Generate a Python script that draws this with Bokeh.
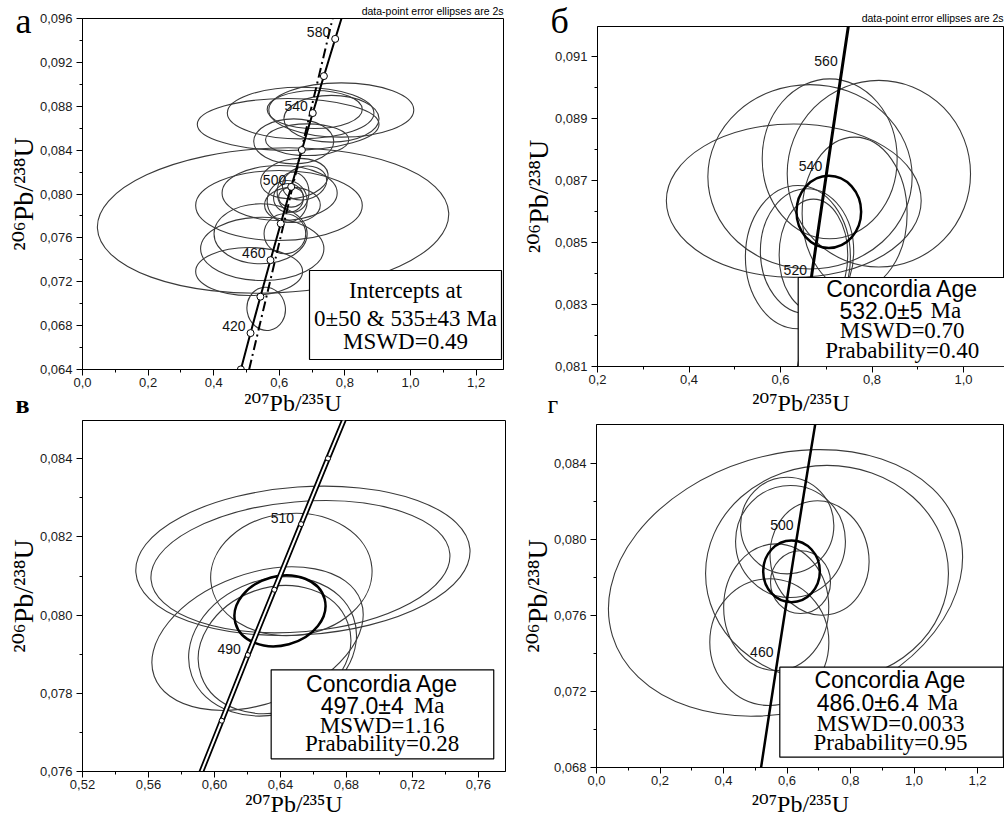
import math
from bokeh.plotting import figure
from bokeh.models import (FixedTicker, Label, BoxAnnotation, Range1d, Title,
                          ColumnDataSource, CustomJSTickFormatter)
from bokeh.layouts import column, row
from bokeh.embed import file_html
from bokeh.resources import INLINE
from bokeh.core.properties import value

SERIF = "Liberation Serif"
SERIF_SUP = "Liberation Serif, DejaVu Serif"
SANS = "Liberation Sans"

# ---------------- concordia reference points (age, Ma) ----------------
conc_age = [380, 390, 400, 410, 420, 430, 440, 450, 460, 470, 480, 490, 500,
            510, 520, 530, 540, 550, 560, 570, 580, 590, 600]
conc_x = [0.4539, 0.4683, 0.4828, 0.4975, 0.5123, 0.5273, 0.5424, 0.5577, 0.5731,
          0.5886, 0.6044, 0.6202, 0.6363, 0.6525, 0.6688, 0.6853, 0.7020, 0.7189,
          0.7359, 0.7531, 0.7704, 0.7879, 0.8056]
conc_y = [0.06072, 0.06237, 0.06401, 0.06567, 0.06732, 0.06898, 0.07064, 0.07230,
          0.07397, 0.07563, 0.07730, 0.07898, 0.08065, 0.08233, 0.08401, 0.08569,
          0.08738, 0.08906, 0.09075, 0.09245, 0.09414, 0.09584, 0.09754]

# ---------------- panel а ----------------
a_x = [0.581, 0.627, 0.665, 0.789, 0.759, 0.708, 0.644, 0.685, 0.599, 0.601, 0.646,
       0.624, 0.628, 0.636, 0.642, 0.677, 0.640, 0.508, 0.548, 0.543, 0.617, 0.560]
a_y = [0.07758, 0.08634, 0.08738, 0.08766, 0.08686, 0.08770, 0.08480, 0.08495, 0.07895,
       0.08009, 0.08141, 0.07933, 0.07964, 0.07971, 0.08016, 0.08100, 0.07900, 0.07293,
       0.07500, 0.07637, 0.07637, 0.06953]
a_w = [1.072, 0.554, 0.447, 0.442, 0.290, 0.290, 0.244, 0.254, 0.508, 0.351, 0.207,
       0.122, 0.091, 0.076, 0.097, 0.137, 0.170, 0.326, 0.376, 0.284, 0.127, 0.117]
a_h = [0.0132, 0.00474, 0.00471, 0.00495, 0.00426, 0.00347, 0.00410, 0.00289, 0.00638,
       0.00501, 0.00360, 0.00380, 0.00264, 0.00182, 0.00365, 0.00300, 0.00320, 0.00438,
       0.00577, 0.00547, 0.00365, 0.00395]
a_ang = [2.5, 0, 0, 0, 0, 0, 0, 0, 0, 0, 8, 0, 0, 0, 0, 15, 0, 0, 0, 0, 0, 10]
a_marker_ages = [400, 420, 440, 460, 480, 500, 520, 540, 560, 580]
a_label_ages = [420, 460, 500, 540, 580]
a_disc_x = [0.508, 0.7625]
a_disc_y = [0.064, 0.096]
a_xticks = [0.0, 0.2, 0.4, 0.6, 0.8, 1.0, 1.2]
a_xminor = [0.1, 0.3, 0.5, 0.7, 0.9, 1.1]
a_yticks = [0.064, 0.068, 0.072, 0.076, 0.080, 0.084, 0.088, 0.092, 0.096]
a_yminor = [0.066, 0.070, 0.074, 0.078, 0.082, 0.086, 0.090, 0.094]
a_text = ["Intercepts at", "0±50 & 535±43 Ma", "MSWD=0.49"]

# ---------------- panel б ----------------
b_x = [0.629, 0.6645, 0.7075, 0.815, 0.762, 0.638, 0.658, 0.672]
b_y = [0.08635, 0.08712, 0.0877, 0.08722, 0.08593, 0.08453, 0.08472, 0.0846]
b_w = [0.557, 0.4466, 0.295, 0.4007, 0.2295, 0.2295, 0.204, 0.15]
b_h = [0.00495, 0.00595, 0.00516, 0.00602, 0.00494, 0.00462, 0.00403, 0.0036]
b_ang = [0, 0, 0, 0, 0, 0, 0, 0]
b_mean = dict(x=[0.7056], y=[0.08599], w=[0.1413], h=[0.00233], a=[0])
b_label_ages = [520, 540, 560]
b_xticks = [0.2, 0.4, 0.6, 0.8, 1.0]
b_xminor = [0.3, 0.5, 0.7, 0.9]
b_yticks = [0.081, 0.083, 0.085, 0.087, 0.089, 0.091]
b_yminor = [0.082, 0.084, 0.086, 0.088, 0.090]
b_text = ["Concordia Age", "532.0±5", "Ma", "MSWD=0.70", "Prabability=0.40"]

# ---------------- panel в ----------------
c_x = [0.6536, 0.6521, 0.6466, 0.6261, 0.6352, 0.6364]
c_y = [0.08139, 0.08124, 0.08104, 0.07940, 0.07920, 0.07912]
c_w = [0.2030, 0.1818, 0.0980, 0.1333, 0.1042, 0.0945]
c_h = [0.003783, 0.003326, 0.00312, 0.003326, 0.003428, 0.00317]
c_ang = [4, 5, 5, 20, 20, 20]
c_mean = dict(x=[0.6397], y=[0.08011], w=[0.056], h=[0.00177], a=[15])
c_marker_ages = [470, 480, 490, 500, 510, 520, 530]
c_label_ages = [490, 510]
c_xticks = [0.52, 0.56, 0.60, 0.64, 0.68, 0.72, 0.76]
c_xminor = [0.54, 0.58, 0.62, 0.66, 0.70, 0.74]
c_yticks = [0.076, 0.078, 0.080, 0.082, 0.084]
c_yminor = [0.077, 0.079, 0.081, 0.083]
c_text = ["Concordia Age", "497.0±4", "Ma", "MSWD=1.16", "Prabability=0.28"]

# ---------------- panel г ----------------
d_x = [0.5953, 0.726, 0.6006, 0.611, 0.7025, 0.566, 0.5443, 0.6425]
d_y = [0.0777, 0.0782, 0.08072, 0.07988, 0.07901, 0.07642, 0.07458, 0.07774]
d_w = [1.140, 0.765, 0.294, 0.346, 0.310, 0.331, 0.375, 0.189]
d_h = [0.01347, 0.01137, 0.00509, 0.0059, 0.00605, 0.00667, 0.00667, 0.0033]
d_ang = [17, 0, 0, 0, 10, 0, 0, 0]
d_mean = dict(x=[0.6142], y=[0.07831], w=[0.1785], h=[0.00325], a=[0])
d_label_ages = [460, 500]
d_xticks = [0.0, 0.2, 0.4, 0.6, 0.8, 1.0, 1.2]
d_xminor = [0.1, 0.3, 0.5, 0.7, 0.9, 1.1]
d_yticks = [0.068, 0.072, 0.076, 0.080, 0.084]
d_yminor = [0.070, 0.074, 0.078, 0.082]
d_text = ["Concordia Age", "486.0±6.4", "Ma", "MSWD=0.0033", "Prabability=0.95"]

Y_TITLE = "\u00b2\u2070\u2076Pb/\u00b2\u00b3\u2078U"
X_TITLE = "\u00b2\u2070\u2077Pb/\u00b2\u00b3\u2075U"
NOTE = "data-point error ellipses are 2s"
ELL_COLOR = "#3a3a3a"
# (ascent + descent, descent) as fractions of the font size
SERIF_M = (1.107, 0.216)
SANS_M = (1.117, 0.212)

# page-pixel -> data calibrations of each panel (from its tick marks)
CAL = {
    "a": lambda px, py: ((px - 82) / 328.0, 0.096 - (py - 18) * 0.032 / 351.0),
    "b": lambda px, py: (0.2 + (px - 597) / 457.5, 0.091 - (py - 56) / 31000.0),
    "c": lambda px, py: (0.52 + (px - 82) * 0.04 / 66.0, 0.084 - (py - 458.3) * 0.008 / 312.7),
    "d": lambda px, py: ((px - 596) / 317.5, 0.084 - (py - 462.7) * 0.016 / 304.0),
}


def make_fig(w, h, xr, yr, bl, br, bt, bb):
    p = figure(width=w, height=h, x_range=Range1d(*xr), y_range=Range1d(*yr),
               output_backend="svg", toolbar_location=None, tools="",
               min_border_left=bl, min_border_right=br,
               min_border_top=bt, min_border_bottom=bb)
    p.grid.visible = False
    p.background_fill_color = "white"
    p.border_fill_color = "white"
    p.outline_line_color = "black"
    p.outline_line_width = 1
    return p


def style_axes(p, xt, xm, yt, ym, xdec, ydec, x_lab_standoff):
    for ax, ticks, minors, dec, stand in ((p.below[0], xt, xm, xdec, 2),
                                         (p.left[0], yt, ym, ydec, 4)):
        ax.ticker = FixedTicker(ticks=ticks, minor_ticks=minors)
        ax.formatter = CustomJSTickFormatter(
            code="return tick.toFixed(%d).replace('.', ',');" % dec)
        ax.axis_line_color = "black"
        ax.axis_line_width = 1
        ax.major_tick_line_color = "black"
        ax.major_tick_out = 6
        ax.major_tick_in = 0
        ax.minor_tick_line_color = "black"
        ax.minor_tick_out = 3
        ax.minor_tick_in = 0
        ax.major_label_text_font = SANS
        ax.major_label_text_font_size = "13px"
        ax.major_label_text_color = "#1a1a1a"
        ax.major_label_standoff = stand
        ax.axis_label_text_font = SERIF_SUP
        ax.axis_label_text_font_style = "normal"
        ax.axis_label_text_color = "black"
    p.below[0].axis_label = X_TITLE
    p.below[0].axis_label_text_font_size = "24px"
    p.below[0].axis_label_standoff = x_lab_standoff
    p.left[0].axis_label = Y_TITLE
    p.left[0].axis_label_text_font_size = "28px"
    p.left[0].axis_label_standoff = -2


def lab(p, cal, px, py, text, font, size, align="center"):
    x, y = CAL[cal](px, py)
    p.add_layout(Label(x=x, y=y, text=text, text_font=font, text_font_size=size,
                       text_align=align, text_baseline="middle", text_color="black"))


def side_text(p, row_bottom, text, font, size, metrics, align, offset, baseline,
              bold=False):
    """Text placed through a Title row of the top border, anchored by its baseline
    (page px).  Returns the bottom of the next row."""
    height, desc = metrics[0] * size, metrics[1] * size
    y_bottom = baseline + desc
    standoff = 2 * (row_bottom - y_bottom)
    p.add_layout(Title(text=text, align=align, offset=offset, standoff=standoff,
                       vertical_align="bottom", text_font=font,
                       text_font_size="%gpx" % size, text_color="black",
                       text_font_style="bold" if bold else "normal"), "above")
    used = max(0.0, 2 + height + standoff)
    return row_bottom - used


def ellipses(p, xs, ys, ws, hs, angs, color=ELL_COLOR, lw=1.1):
    src = ColumnDataSource(dict(x=xs, y=ys, w=ws, h=hs, a=angs))
    p.ellipse(x="x", y="y", width="w", height="h", angle="a", angle_units="deg",
              source=src, fill_color=None, line_color=color, line_width=lw)


def age_pts(ages):
    idx = [conc_age.index(a) for a in ages]
    return [conc_x[i] for i in idx], [conc_y[i] for i in idx], [str(a) for a in ages]


def age_labels(p, ages, xo, yo):
    xs, ys, ts = age_pts(ages)
    p.text(x=xs, y=ys, text=ts, text_font=value(SANS), text_font_size="14px",
           text_align="right", text_baseline="middle", x_offset=xo, y_offset=yo,
           text_color="#111111")


def result_box(p, cal, px0, px1, py0, py1, bottom=None, right=None):
    l, t = CAL[cal](px0, py0)
    r, b = CAL[cal](px1, py1)
    p.add_layout(BoxAnnotation(left=l, right=right if right is not None else r,
                               bottom=bottom if bottom is not None else b, top=t,
                               fill_color="white", fill_alpha=1.0, line_color="black",
                               line_width=1.2, line_alpha=1.0))


def concordia_text(p, cal, lines, cx, split_l, split_r, ys):
    lab(p, cal, cx, ys[0], lines[0], SANS, "23px")
    lab(p, cal, split_l, ys[1], lines[1], SANS, "23px", align="right")
    lab(p, cal, split_r, ys[1], lines[2], SERIF, "23px", align="left")
    lab(p, cal, cx, ys[2], lines[3], SERIF, "23px")
    lab(p, cal, cx, ys[3], lines[4], SERIF, "23px")


# ======================= panel а (frame x 82..503, y 18..369) =======================
p1 = make_fig(510, 420, (0.0, 1.2835), (0.064, 0.096), 82, 7, 18, 51)
style_axes(p1, a_xticks, a_xminor, a_yticks, a_yminor, 1, 3, 0)
ellipses(p1, a_x, a_y, a_w, a_h, a_ang)
p1.line(conc_x, conc_y, line_color="black", line_width=2)
p1.line(a_disc_x, a_disc_y, line_color="black", line_width=2, line_dash="10 4 2 4")
mx, my, _ = age_pts(a_marker_ages)
p1.scatter(mx, my, marker="circle", size=7, fill_color="white", line_color="black",
           line_width=1)
age_labels(p1, a_label_ages, -5, -7)
result_box(p1, "a", 309, 501, 270, 359)
lab(p1, "a", 405, 290, a_text[0], SERIF, "23px")
lab(p1, "a", 405, 318, a_text[1], SERIF, "23px")
lab(p1, "a", 405, 341, a_text[2], SERIF, "23px")
rb = side_text(p1, 18, "в", SERIF, 26, SERIF_M, "left", -67, 413, bold=True)
rb = side_text(p1, rb, NOTE, SANS, 10.5, SANS_M, "right", 0, 14)
rb = side_text(p1, rb, "а", SERIF, 36, SERIF_M, "left", -67, 33)

# ======================= panel б (frame x 597..1004, y 26..366) =======================
p2 = make_fig(494, 420, (0.2, 1.0896), (0.081, 0.091968), 87, 0, 26, 54)
style_axes(p2, b_xticks, b_xminor, b_yticks, b_yminor, 1, 3, 3)
ellipses(p2, b_x, b_y, b_w, b_h, b_ang)
ellipses(p2, b_mean["x"], b_mean["y"], b_mean["w"], b_mean["h"], b_mean["a"],
         color="black", lw=2.5)
p2.line(conc_x, conc_y, line_color="black", line_width=3)
age_labels(p2, b_label_ages, -5, -3)
result_box(p2, "b", 797.7, 1004, 277, 366, bottom=0.081, right=1.3)
concordia_text(p2, "b", b_text, 901.7, 922, 930, [288, 310, 330, 350])
rb = side_text(p2, 26, "г", SERIF, 26, SERIF_M, "left", -50, 413)
rb = side_text(p2, rb, NOTE, SANS, 10.5, SANS_M, "right", 1, 21)
rb = side_text(p2, rb, "б", SERIF, 36, SERIF_M, "left", -47, 33)

# ======================= panel в (frame x 82..505, y 420..771) =======================
p3 = make_fig(510, 400, (0.52, 0.7764), (0.076, 0.08498), 82, 5, 0, 49)
style_axes(p3, c_xticks, c_xminor, c_yticks, c_yminor, 2, 3, -1)
ellipses(p3, c_x, c_y, c_w, c_h, c_ang)
ellipses(p3, c_mean["x"], c_mean["y"], c_mean["w"], c_mean["h"], c_mean["a"],
         color="black", lw=2.5)
p3.line(conc_x, conc_y, line_color="black", line_width=5.5)
p3.line(conc_x, conc_y, line_color="white", line_width=2)
mx, my, _ = age_pts(c_marker_ages)
p3.scatter(mx, my, marker="circle", size=5, fill_color="white", line_color="black",
           line_width=1)
age_labels(p3, c_label_ages, -7, -6)
result_box(p3, "c", 270.7, 493.3, 669.3, 758.3)
concordia_text(p3, "c", c_text, 381.7, 403.3, 413.3, [683.3, 705, 725, 743.3])

# ======================= panel г (frame x 596..1004, y 424..767) =======================
p4 = make_fig(494, 400, (0.0, 1.2850), (0.067984, 0.086037), 86, 0, 4, 53)
style_axes(p4, d_xticks, d_xminor, d_yticks, d_yminor, 1, 3, 3)
ellipses(p4, d_x, d_y, d_w, d_h, d_ang)
ellipses(p4, d_mean["x"], d_mean["y"], d_mean["w"], d_mean["h"], d_mean["a"],
         color="black", lw=2.5)
p4.line(conc_x, conc_y, line_color="black", line_width=2.5)
age_labels(p4, d_label_ages, -5, -2)
result_box(p4, "d", 779.3, 1002.7, 666.7, 756.7)
concordia_text(p4, "d", d_text, 890, 918.3, 926.7, [680, 702.3, 723.3, 742.3])

# each figure wrapped in its own column so that frames are not aligned across panels
layout = column(row(column(p1), column(p2)), row(column(p3), column(p4)))
open("out.html", "w").write(file_html(layout, INLINE))
